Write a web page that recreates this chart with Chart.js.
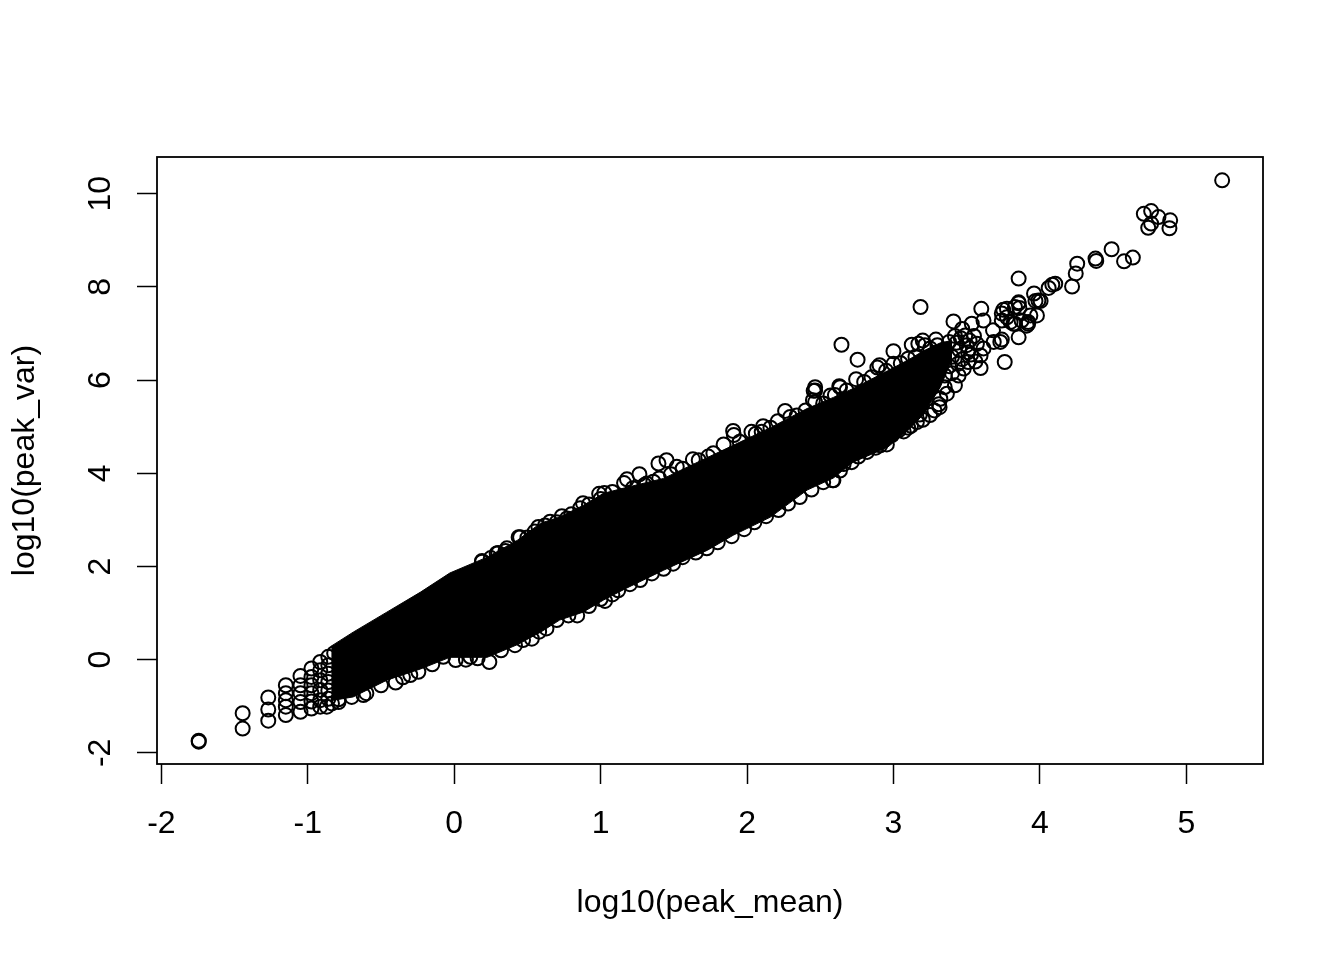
<!DOCTYPE html>
<html>
<head>
<meta charset="utf-8">
<style>
  html, body { margin: 0; padding: 0; background: #fff; }
  canvas { display: block; }
</style>
<script src="https://cdn.jsdelivr.net/npm/chart.js@4/dist/chart.umd.min.js"></script>
</head>
<body>
<canvas id="plot" width="1344" height="960"></canvas>
<script>
const xTicks = [-2, -1, 0, 1, 2, 3, 4, 5];
const yTicks = [-2, 0, 2, 4, 6, 8, 10];

const coreX = [-0.84, -0.69, -0.46, -0.23, -0.03, 0.225, 0.43, 0.59, 0.72, 0.88, 1.02, 1.18, 1.43, 1.73, 1.905, 2.16, 2.41, 2.59, 2.725, 2.96, 3.11, 3.20, 3.32, 3.40];
const coreUpper = [0.29, 0.59, 1.02, 1.45, 1.86, 2.20, 2.56, 2.93, 3.06, 3.31, 3.57, 3.70, 3.89, 4.34, 4.60, 4.98, 5.39, 5.63, 5.82, 6.20, 6.45, 6.62, 6.80, 6.85];
const coreLower = [-0.88, -0.80, -0.44, -0.20, 0.05, 0.05, 0.32, 0.59, 0.85, 1.02, 1.28, 1.54, 1.92, 2.35, 2.67, 3.06, 3.64, 3.90, 4.24, 4.56, 4.95, 5.25, 5.85, 6.45];

const lowTail = [
  [-1.745, -1.76], [-1.745, -1.74], [-1.445, -1.15], [-1.445, -1.48],
  [-1.27, -0.81], [-1.27, -1.07], [-1.27, -1.31],
  [-1.15, -0.55], [-1.15, -0.72], [-1.15, -0.87], [-1.15, -1.01], [-1.15, -1.19],
  [-1.05, -0.35], [-1.05, -0.55], [-1.05, -0.72], [-1.05, -0.91], [-1.05, -1.12],
  [-0.975, -0.19], [-0.975, -0.37], [-0.975, -0.55], [-0.975, -0.72], [-0.975, -0.90], [-0.975, -1.05],
  [-0.915, -0.05], [-0.915, -0.23], [-0.915, -0.44], [-0.915, -0.65], [-0.915, -0.87], [-0.915, -1.01],
  [-0.86, 0.06], [-0.86, -0.12], [-0.86, -0.30], [-0.86, -0.48], [-0.86, -0.66], [-0.86, -0.84], [-0.87, -1.01],
  [-0.835, -0.94], [-0.79, -0.91], [-0.82, 0.14]
];

const upperEdge = [
  [0.19, 2.12], [0.19, 2.10], [0.25, 2.18], [0.29, 2.28], [0.30, 2.29], [0.35, 2.33], [0.36, 2.39], [0.44, 2.63], [0.45, 2.63],
  [0.50, 2.62], [0.55, 2.75], [0.575, 2.85], [0.62, 2.88], [0.655, 2.96], [0.70, 2.95], [0.735, 3.08], [0.77, 3.03], [0.80, 3.12],
  [0.86, 3.25], [0.88, 3.36], [0.92, 3.33], [0.99, 3.56], [1.00, 3.45], [1.025, 3.58], [1.08, 3.60],
  [1.16, 3.79], [1.18, 3.87], [1.22, 3.68], [1.265, 3.98], [1.30, 3.75], [1.315, 3.78], [1.36, 3.82], [1.395, 4.21], [1.40, 3.89],
  [1.45, 4.28], [1.48, 3.98], [1.52, 4.14], [1.56, 4.10], [1.63, 4.30], [1.67, 4.28], [1.735, 4.36], [1.77, 4.43], [1.84, 4.62],
  [1.905, 4.91], [1.91, 4.82], [1.95, 4.68], [2.03, 4.89], [2.06, 4.85], [2.10, 4.89], [2.11, 5.01], [2.16, 4.98],
  [2.21, 5.12], [2.26, 5.34], [2.295, 5.21], [2.34, 5.24], [2.40, 5.35], [2.45, 5.57], [2.455, 5.77], [2.465, 5.85], [2.465, 5.78], [2.465, 5.53],
  [2.52, 5.50], [2.57, 5.67], [2.60, 5.68], [2.63, 5.87], [2.635, 5.85], [2.68, 5.78], [2.745, 6.02], [2.80, 5.96], [2.85, 6.06],
  [2.89, 6.27], [2.905, 6.32], [2.95, 6.20], [3.00, 6.35], [3.05, 6.36], [3.10, 6.46], [3.15, 6.50], [3.25, 6.68], [3.30, 6.75]
];

const lowerEdge = [
  [-0.79, -0.85], [-0.70, -0.80], [-0.62, -0.76], [-0.60, -0.72], [-0.50, -0.55], [-0.40, -0.49], [-0.35, -0.38], [-0.30, -0.33],
  [-0.245, -0.26], [-0.15, -0.10], [-0.075, 0.06], [0.01, -0.01], [0.08, 0.00], [0.11, 0.06], [0.16, 0.03], [0.24, -0.05],
  [0.32, 0.20], [0.415, 0.31], [0.47, 0.42], [0.53, 0.45], [0.58, 0.60], [0.63, 0.67], [0.70, 0.85], [0.78, 0.95], [0.84, 0.95],
  [0.92, 1.15], [1.00, 1.30], [1.03, 1.26], [1.08, 1.40], [1.12, 1.49], [1.20, 1.62], [1.27, 1.71], [1.35, 1.85], [1.43, 1.95],
  [1.495, 2.06], [1.56, 2.20], [1.65, 2.30], [1.725, 2.39], [1.80, 2.52], [1.895, 2.65], [1.98, 2.80], [2.05, 2.95], [2.13, 3.08],
  [2.215, 3.21], [2.28, 3.35], [2.36, 3.49], [2.44, 3.65], [2.52, 3.81], [2.585, 3.85], [2.59, 3.85], [2.635, 4.06], [2.66, 4.20],
  [2.715, 4.24], [2.76, 4.36], [2.82, 4.46], [2.88, 4.55], [2.91, 4.60], [2.955, 4.62], [2.99, 4.82], [3.035, 4.92], [3.05, 5.05],
  [3.07, 4.90], [3.10, 4.98], [3.12, 5.02], [3.16, 5.10], [3.18, 5.26], [3.20, 5.15], [3.25, 5.25], [3.28, 5.35], [3.31, 5.48],
  [3.315, 5.42], [3.32, 5.60], [3.365, 5.71], [3.35, 5.85], [3.42, 5.89]
];

const upperCloud = [
  [3.125, 6.76], [3.17, 6.78], [3.185, 7.57], [3.20, 6.85], [3.215, 6.75], [3.29, 6.87], [3.38, 6.82], [3.41, 7.26],
  [3.47, 7.10], [3.49, 6.96], [3.535, 7.21], [3.57, 6.78], [3.60, 7.53], [3.615, 7.28], [3.615, 6.68], [3.68, 7.07],
  [3.685, 6.82], [3.73, 6.82], [3.74, 6.87], [3.595, 6.53], [3.51, 6.39], [3.51, 6.60], [3.445, 6.10],
  [3.43, 6.80], [3.45, 6.65], [3.50, 6.75], [3.47, 6.45], [3.40, 6.50], [3.38, 6.30], [3.35, 6.10], [3.33, 6.55],
  [3.40, 6.15], [3.44, 6.35], [3.55, 6.95], [3.52, 6.85], [3.46, 6.90], [3.48, 6.25], [3.53, 6.55], [3.56, 6.40], [3.42, 6.95],
  [2.645, 6.76], [2.755, 6.44], [3.00, 6.62], [3.595, 6.26], [3.76, 6.39], [3.855, 6.92],
  [3.74, 7.28], [3.74, 7.43], [3.75, 7.51], [3.775, 7.53], [3.775, 7.35], [3.80, 7.25], [3.82, 7.21], [3.83, 7.57],
  [3.83, 7.21], [3.855, 7.65], [3.855, 7.67], [3.86, 7.55], [3.875, 7.28], [3.91, 7.17], [3.92, 7.25], [3.92, 7.21],
  [3.935, 7.39], [3.96, 7.86], [3.97, 7.70], [3.98, 7.39], [3.99, 7.71], [4.005, 7.70], [3.855, 8.18],
  [4.06, 7.98], [4.085, 8.05], [4.105, 8.07], [4.22, 8.01], [4.245, 8.29], [4.255, 8.50], [4.38, 8.61], [4.385, 8.56],
  [4.49, 8.81], [4.575, 8.55], [4.635, 8.63], [4.71, 9.57], [4.74, 9.27], [4.76, 9.63], [4.76, 9.36], [4.81, 9.50],
  [4.885, 9.26], [4.89, 9.43], [5.245, 10.29]
];

const toPoints = list => list.map(p => ({ x: p[0], y: p[1] }));
const rings = [...lowTail, ...upperEdge, ...lowerEdge, ...upperCloud];
const fontName = "'Liberation Sans', Arial, sans-serif";

// R's box() round the plot region
const plotBox = {
  id: 'plotBox',
  afterDraw(chart) {
    const a = chart.chartArea;
    const ctx = chart.ctx;
    ctx.save();
    ctx.strokeStyle = '#000';
    ctx.lineWidth = 1.8;
    ctx.strokeRect(a.left, a.top, a.right - a.left, a.bottom - a.top);
    ctx.restore();
  }
};

new Chart(document.getElementById('plot'), {
  type: 'scatter',
  data: {
    datasets: [
      {
        data: coreX.map((x, i) => ({ x: x, y: coreUpper[i] })),
        showLine: true, pointRadius: 0, borderColor: '#000', borderWidth: 1,
        backgroundColor: '#000', fill: '+1'
      },
      {
        data: coreX.map((x, i) => ({ x: x, y: coreLower[i] })),
        showLine: true, pointRadius: 0, borderColor: '#000', borderWidth: 1
      },
      {
        data: toPoints(rings),
        pointStyle: 'circle', pointRadius: 7, pointBorderWidth: 2,
        pointBorderColor: '#000', pointBackgroundColor: 'rgba(0,0,0,0)'
      }
    ]
  },
  options: {
    responsive: false,
    animation: false,
    devicePixelRatio: 1,
    layout: { padding: { top: 157, right: 81, left: 0, bottom: 0 } },
    plugins: { legend: { display: false }, tooltip: { enabled: false } },
    scales: {
      x: {
        type: 'linear',
        min: -2.03,
        max: 5.524,
        afterFit(scale) { scale.height = 196; },
        afterBuildTicks(scale) { scale.ticks = xTicks.map(v => ({ value: v })); },
        border: { display: false },
        grid: { drawOnChartArea: false, tickLength: 20, tickColor: '#000', tickWidth: 1.5 },
        ticks: {
          color: '#000', padding: 21, maxRotation: 0, autoSkip: false,
          font: { family: fontName, size: 32 }
        },
        title: {
          display: true, text: 'log10(peak_mean)', color: '#000',
          font: { family: fontName, size: 32, lineHeight: 1 },
          padding: { top: 0, bottom: 41 }
        }
      },
      y: {
        type: 'linear',
        min: -2.24,
        max: 10.79,
        afterFit(scale) { scale.width = 157; },
        afterBuildTicks(scale) { scale.ticks = yTicks.map(v => ({ value: v })); },
        border: { display: false },
        grid: { drawOnChartArea: false, tickLength: 20, tickColor: '#000', tickWidth: 1.5 },
        ticks: {
          color: '#000', padding: 18, minRotation: 90, maxRotation: 90, crossAlign: 'center', autoSkip: false,
          font: { family: fontName, size: 32 }
        },
        title: {
          display: true, text: 'log10(peak_var)', color: '#000',
          font: { family: fontName, size: 32, lineHeight: 1 },
          padding: { top: 9, bottom: 0 }
        }
      }
    }
  },
  plugins: [plotBox]
});
</script>
</body>
</html>
